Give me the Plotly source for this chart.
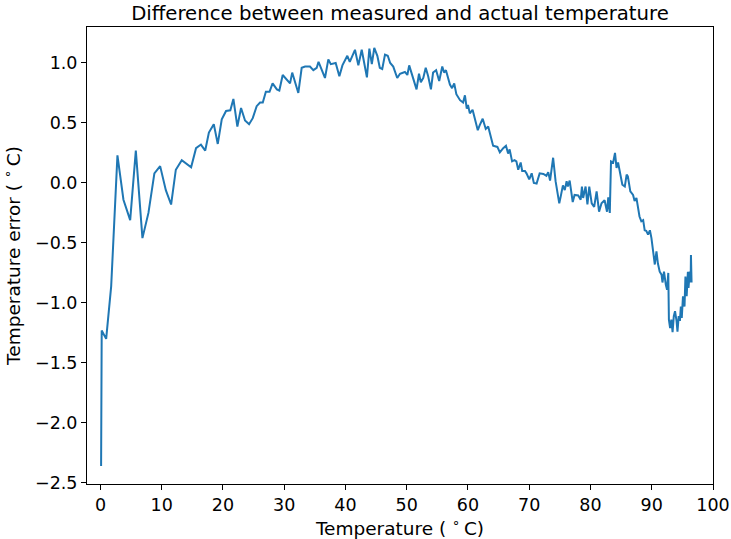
import plotly.graph_objects as go

temperature = [0.1, 0.2, 0.93, 1.75, 2.77, 3.75, 4.85, 5.77, 6.85, 7.83, 8.8, 9.74, 10.67, 11.53,
               12.3, 13.27, 14.8, 15.6, 16.4, 17.1, 17.7, 18.5, 19.15, 19.8, 20.5, 21.2, 21.7,
               22.35, 22.95, 23.6, 24.26, 24.86, 25.5, 26.05, 26.5, 27.0, 27.6, 28.1, 28.8, 29.2,
               29.75, 30.6, 30.95, 31.3, 32.3, 32.85, 33.4, 34.2, 34.75, 35.3, 35.6, 36.65, 37.2,
               37.6, 38.4, 39.0, 39.5, 40.3, 40.7, 41.55, 42.1, 42.65, 43.5, 43.9, 44.3, 44.7,
               45.2, 45.6, 46.0, 46.45, 46.9, 47.3, 47.8, 48.45, 48.9, 49.7, 50.1, 50.4, 51.1,
               51.6, 52.0, 52.3, 52.7, 53.1, 53.5, 53.95, 54.3, 54.8, 55.3, 55.8, 56.1, 56.4,
               57.05, 57.4, 57.75, 58.1, 58.7, 59.2, 59.5, 59.8, 60.0, 60.3, 60.75, 61.0, 61.6,
               61.9, 62.4, 62.9, 63.3, 63.6, 64.1, 64.8, 65.2, 65.75, 66.2, 66.55, 66.8, 67.2,
               67.6, 67.9, 68.2, 68.6, 68.85, 69.3, 69.55, 70.0, 70.4, 70.75, 71.2, 71.7, 72.3,
               72.8, 73.1, 73.4, 73.9, 74.3, 74.9, 75.15, 75.5, 75.8, 76.1, 76.3, 76.6, 77.1,
               77.4, 78.0, 78.4, 78.6, 78.8, 79.2, 79.5, 79.8, 80.2, 80.6, 81.0, 81.4, 81.8,
               82.3, 82.7, 82.9, 83.15, 83.35, 83.7, 84.0, 84.25, 84.5, 84.9, 85.2, 85.6, 85.9,
               86.1, 86.5, 86.95, 87.2, 87.5, 87.75, 88.0, 88.3, 88.6, 88.85, 89.1, 89.4, 89.7,
               89.95, 90.2, 90.5, 90.77, 91.0, 91.3, 91.6, 91.75, 92.0, 92.3, 92.5, 92.7, 92.8,
               93.0, 93.2, 93.4, 93.6, 93.8, 94.05, 94.2, 94.4, 94.6, 94.75, 94.9, 95.1, 95.35,
               95.5, 95.7, 95.9, 96.0, 96.2, 96.35, 96.4, 96.5]

error = [-2.36, -1.23, -1.30, -0.86, 0.23, -0.14, -0.31, 0.27, -0.46, -0.25, 0.08, 0.14, -0.06, -0.18,
         0.11, 0.19, 0.13, 0.29, 0.32, 0.27, 0.42, 0.49, 0.325, 0.53, 0.60, 0.605, 0.70,
         0.47, 0.625, 0.52, 0.49, 0.54, 0.64, 0.67, 0.67, 0.76, 0.76, 0.83, 0.78, 0.77,
         0.90, 0.85, 0.83, 0.92, 0.75, 0.96, 0.97, 0.97, 0.94, 0.96, 1.01, 0.875, 1.03,
         0.99, 1.00, 0.89, 0.98, 1.06, 1.01, 1.11, 0.98, 1.11, 0.88, 1.12, 0.99, 1.125,
         1.06, 0.96, 0.95, 1.07, 1.06, 1.00, 0.97, 0.875, 0.91, 0.925, 0.90, 0.98, 0.85,
         0.78, 0.91, 0.84, 0.875, 0.96, 0.89, 0.78, 0.92, 0.94, 0.85, 0.97, 0.92, 0.94,
         0.82, 0.79, 0.83, 0.74, 0.69, 0.67, 0.73, 0.62, 0.65, 0.58, 0.61, 0.555, 0.44,
         0.48, 0.535, 0.45, 0.47, 0.41, 0.31, 0.30, 0.255, 0.29, 0.31, 0.245, 0.28, 0.18,
         0.19, 0.18, 0.11, 0.17, 0.10, 0.10, 0.08, 0.03, 0.08, 0.0, -0.005, 0.08, 0.075,
         0.06, 0.09, 0.02, 0.21, 0.015, -0.17, -0.11, -0.02, -0.06, 0.015, -0.03, 0.02, -0.16,
         -0.10, -0.105, -0.14, -0.03, -0.125, -0.03, -0.18, -0.03, -0.17, -0.20, -0.07, -0.24, -0.17,
         -0.145, -0.24, -0.12, -0.25, 0.18, 0.17, 0.25, 0.125, 0.17, 0.07, -0.015, -0.03, 0.07,
         0.055, -0.07, -0.10, -0.15, -0.125, -0.21, -0.28, -0.32, -0.31, -0.395, -0.40, -0.43, -0.395,
         -0.46, -0.56, -0.68, -0.57, -0.67, -0.74, -0.765, -0.83, -0.74, -0.85, -0.89, -0.75, -1.14,
         -1.21, -1.14, -1.245, -1.11, -1.07, -1.15, -1.24, -1.11, -1.15, -1.03, -1.125, -0.945, -1.03,
         -0.78, -0.945, -0.74, -0.875, -0.74, -0.83, -0.60, -0.83]

x_ticks = [0, 10, 20, 30, 40, 50, 60, 70, 80, 90, 100]
y_ticks = [-2.5, -2.0, -1.5, -1.0, -0.5, 0.0, 0.5, 1.0]

fig = go.Figure()
fig.add_trace(go.Scatter(x=temperature, y=error, mode="lines",
                         line=dict(color="#1f77b4", width=2), showlegend=False))

font = "DejaVu Sans, Liberation Sans, sans-serif"
axis_common = dict(showline=True, linecolor="black", linewidth=1, mirror=True,
                   ticks="outside", ticklen=5, tickwidth=1, tickcolor="black",
                   showgrid=False, zeroline=False, automargin=False,
                   tickfont=dict(family=font, size=17.5, color="black"))

deg = "(\u00a0<sup>\u2218</sup>\u2009C)"

fig.update_layout(
    width=731, height=539,
    margin=dict(l=87, r=18, t=27, b=55),
    paper_bgcolor="white", plot_bgcolor="white",
    title=dict(text="Difference between measured and actual temperature",
               x=0.5, xanchor="center", xref="paper", y=1 - 13 / 539, yanchor="middle",
               font=dict(family=font, size=19.7, color="black")),
    xaxis=dict(range=[-2.2, 100], tickvals=x_ticks,
               title=dict(text="Temperature " + deg, standoff=2,
                          font=dict(family=font, size=18.5, color="black")),
               **axis_common),
    yaxis=dict(range=[-2.51, 1.30], tickvals=y_ticks, tickformat=".1f",
               title=dict(text="Temperature error " + deg, standoff=9,
                          font=dict(family=font, size=18.5, color="black")),
               **axis_common),
)

fig.write_html("out.html")
